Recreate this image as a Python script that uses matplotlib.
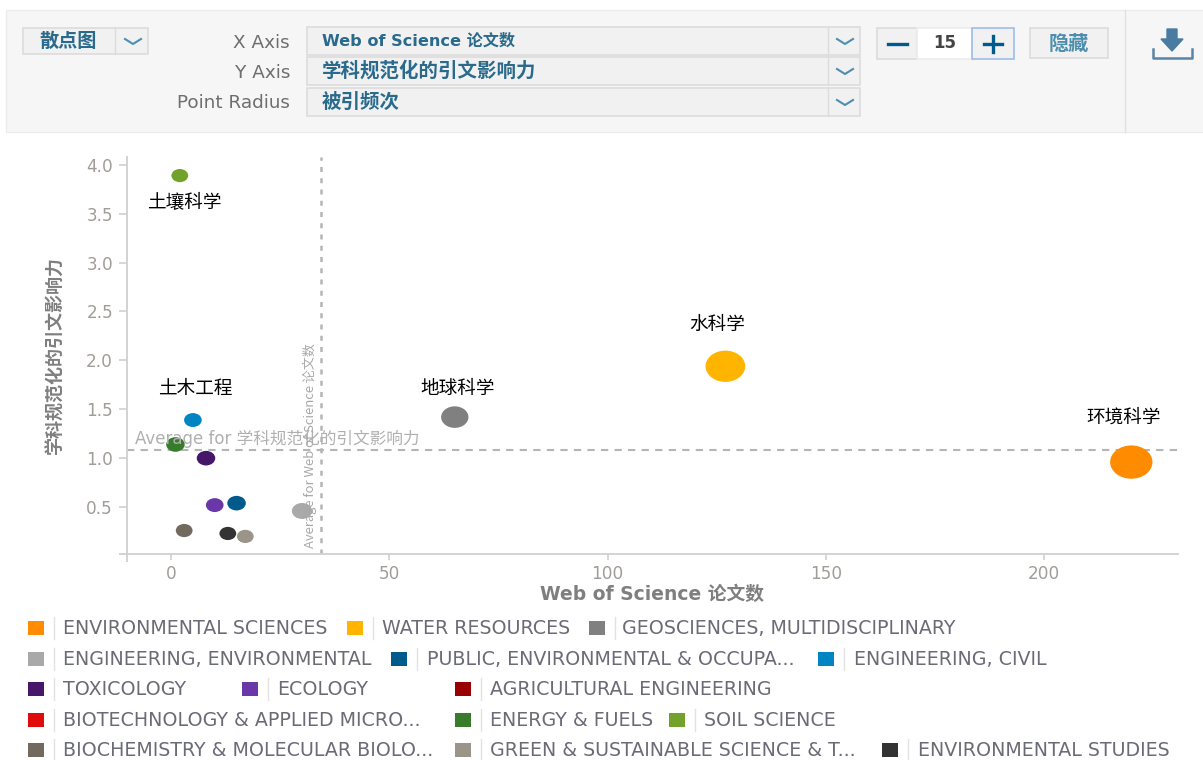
import numpy as np
import matplotlib
matplotlib.use("Agg")
import matplotlib.pyplot as plt
from matplotlib.markers import MarkerStyle
from matplotlib.patches import Rectangle
from matplotlib.transforms import Affine2D

CJK = ['Noto Sans CJK SC', 'DejaVu Sans']
WIDE = ['DejaVu Sans', 'Noto Sans CJK SC']
plt.rcParams['font.family'] = CJK

# ---------- data ----------
categories = ["ENVIRONMENTAL SCIENCES", "WATER RESOURCES", "GEOSCIENCES, MULTIDISCIPLINARY",
              "ENGINEERING, ENVIRONMENTAL", "PUBLIC, ENVIRONMENTAL & OCCUPA...", "ENGINEERING, CIVIL",
              "TOXICOLOGY", "ECOLOGY", "AGRICULTURAL ENGINEERING",
              "BIOTECHNOLOGY & APPLIED MICRO...", "ENERGY & FUELS", "SOIL SCIENCE",
              "BIOCHEMISTRY & MOLECULAR BIOLO...", "GREEN & SUSTAINABLE SCIENCE & T...", "ENVIRONMENTAL STUDIES"]
papers = [220, 127, 65, 30, 15, 5, 8, 10, np.nan, np.nan, 1, 2, 3, 17, 13]
impact = [0.96, 1.94, 1.42, 0.46, 0.54, 1.39, 1.00, 0.52, np.nan, np.nan, 1.14, 3.89, 0.26, 0.20, 0.23]
radius = [24, 22.5, 15.5, 11.5, 10.5, 10, 10.5, 10, 0, 0, 10.5, 9.5, 9.5, 9.5, 9.5]
colors = ["#ff8c00", "#ffb400", "#808080", "#a9a9a9", "#005a8c", "#0085c3", "#46166b", "#6a36a8",
          "#990000", "#e00b0b", "#387c2b", "#73a22c", "#726a5e", "#9b9489", "#333333"]
point_labels = {0: "环境科学", 1: "水科学", 2: "地球科学", 5: "土木工程", 11: "土壤科学"}
avg_papers = 34.3
avg_impact = 1.08
x_ticks = [0, 50, 100, 150, 200]
y_ticks = [0.5, 1.0, 1.5, 2.0, 2.5, 3.0, 3.5, 4.0]
x_title = "Web of Science 论文数"
y_title = "学科规范化的引文影响力"
size_title = "被引频次"
stepper_value = "15"

# ---------- layout ----------
W, H = 1203, 760
fig = plt.figure(figsize=(W / 100, H / 100), dpi=100, facecolor="white")
ui = fig.add_axes([0, 0, 1, 1], zorder=0)
ui.set_xlim(0, W); ui.set_ylim(H, 0); ui.axis("off")

def box(x0, y0, x1, y1, fc="#f1f1f1", ec="#dcdcdc", lw=1.2, z=1):
    ui.add_patch(Rectangle((x0, y0), x1 - x0, y1 - y0, fc=fc, ec=ec, lw=lw, zorder=z))

def chevron(cx, cy, c="#4d8fb2"):
    ui.plot([cx - 8, cx, cx + 8], [cy - 3, cy + 2, cy - 3], color=c, lw=1.5, zorder=3)

TEAL = "#2a6a8c"
# toolbar panel
box(6, 10, W + 5, 132, fc="#f6f6f6", ec="#ececec", lw=1.0)
ui.plot([1125, 1125], [10, 132], color="#e0e0e0", lw=1, zorder=2)
box(23, 28, 148, 54)
ui.plot([115, 115], [28, 54], color="#dcdcdc", lw=1, zorder=2)
ui.text(68, 41, "散点图", color=TEAL, fontsize=13.8, fontweight="bold", ha="center", va="center", zorder=3)
chevron(133, 42)
for yc, lab, val, fs in [(41, "X Axis", x_title, 11.6), (71, "Y Axis", y_title, 14), (102, "Point Radius", size_title, 14)]:
    box(307, yc - 14, 860, yc + 14)
    ui.plot([828, 828], [yc - 14, yc + 14], color="#dcdcdc", lw=1, zorder=2)
    ui.text(290, yc + 1.5, lab, color="#6e6e6e", fontsize=13.2, family="DejaVu Sans", ha="right", va="center", zorder=3)
    ui.text(322, yc, val, color=TEAL, fontsize=fs, fontweight="bold", family=WIDE, ha="left", va="center", zorder=3)
    chevron(845, yc + 1)
box(877, 28, 917, 59)
box(917, 28, 972, 59, fc="white", ec="#ececec")
box(972, 28, 1014, 59, ec="#9dbdee")
ui.plot([888, 907], [44, 44], color="#005a8c", lw=2.4, zorder=3)
ui.plot([984, 1002], [44, 44], color="#005a8c", lw=2.4, zorder=3)
ui.plot([993, 993], [36, 52], color="#005a8c", lw=2.4, zorder=3)
ui.text(945, 43, stepper_value, color="#444444", fontsize=12, fontweight="bold", family="DejaVu Sans",
        ha="center", va="center", zorder=3)
box(1030, 28, 1108, 58)
ui.text(1069, 43, "隐藏", color="#4d8eae", fontsize=14.5, fontweight="bold", ha="center", va="center", zorder=3)
# download icon
ui.plot([1153, 1153, 1192, 1192], [49, 58, 58, 49], color="#5a84a6", lw=1.8, zorder=3)
ui.fill([1167, 1177, 1177, 1183, 1172, 1161, 1167], [29, 29, 39, 39, 51, 39, 39], color="#4a7ba0", zorder=3)

# legend layout: (swatch left, text left), in category order
legend_x = [(28, 63), (347, 382), (589, 622),
            (28, 63), (391, 427), (818, 854),
            (28, 63), (242, 277), (455, 490),
            (28, 63), (455, 490), (669, 704),
            (28, 63), (455, 490), (882, 918)]
row_y = [628, 659, 689, 720, 750]
for i, (name, col) in enumerate(zip(categories, colors)):
    sx, tx = legend_x[i]
    y = row_y[i // 3]
    ui.add_patch(Rectangle((sx, y - 7), 16, 14, fc=col, ec="none", zorder=2))
    ui.plot([sx + 26, sx + 26], [y - 11, y + 11], color="#e2e2e2", lw=1, zorder=2)
    ui.text(tx, y + 0.5, name, color="#6b6b78", fontsize=13.7, family="DejaVu Sans", ha="left", va="center", zorder=3)

# ---------- plot ----------
L, R, T, B = 127, 1178, 157, 554
ax = fig.add_axes([L / W, 1 - B / H, (R - L) / W, (B - T) / H], zorder=1)
ax.patch.set_alpha(0)
ax.set_xlim(-10.1, 230.7)
ax.set_ylim(0.02, 4.08)
marker = MarkerStyle("o", transform=Affine2D().scale(1.27, 1.0))
ax.scatter(papers, impact, s=np.array(radius) ** 2, c=colors, marker=marker, linewidths=0, zorder=3)
ax.axvline(avg_papers, color="#b5b5b5", lw=1.8, ls=(0, (2, 2.5)), zorder=1)
ax.axhline(avg_impact, color="#b5b5b5", lw=1.5, ls=(0, (3.5, 3)), zorder=1)
ax.annotate("Average for " + y_title, (0, avg_impact), xycoords=("axes fraction", "data"),
            xytext=(6, 2), textcoords="offset points", color="#b0b0b0", fontsize=12, family=WIDE, va="bottom", zorder=4)
ax.annotate("Average for " + x_title, (avg_papers, 0), xycoords=("data", "axes fraction"),
            xytext=(-3, 4), textcoords="offset points", color="#a8a8a8", fontsize=9.4,
            rotation=90, ha="right", va="bottom", zorder=4)

offsets = {0: (-5.5, 32), 1: (-6, 30), 2: (2, 20), 5: (2, 22), 11: (3, -19)}
for i, lab in point_labels.items():
    ax.annotate(lab, (papers[i], impact[i]), xytext=offsets[i], textcoords="offset points",
                color="black", fontsize=13.4, ha="center", va="center", zorder=5)

for s in ("top", "right"):
    ax.spines[s].set_visible(False)
for s in ("left", "bottom"):
    ax.spines[s].set_color("#d0d0d0"); ax.spines[s].set_linewidth(1.3)
ax.set_xticks(x_ticks); ax.set_yticks(y_ticks)
ax.set_yticklabels([f"{v:.1f}" for v in y_ticks])
ax.set_xticks([ax.get_xlim()[0]], minor=True)
ax.set_yticks([ax.get_ylim()[0]], minor=True)
ax.tick_params(which="major", color="#d0d0d0", width=1.2, length=4, labelcolor="#a09c98", labelsize=12.2, pad=4,
               labelfontfamily="DejaVu Sans")
ax.tick_params(which="minor", color="#d0d0d0", width=1.3, length=6, labelbottom=False, labelleft=False)
ax.tick_params(axis="y", which="major", length=6, pad=4)
ui.text(652, 594, x_title, color="#7f7f7f", fontsize=13.5, fontweight="bold", family=WIDE, ha="center", va="center", zorder=3)
ui.text(55, 356, y_title, color="#7f7f7f", fontsize=13, fontweight="bold", rotation=90, ha="center", va="center", zorder=3)

fig.savefig("out.png", dpi=100)
